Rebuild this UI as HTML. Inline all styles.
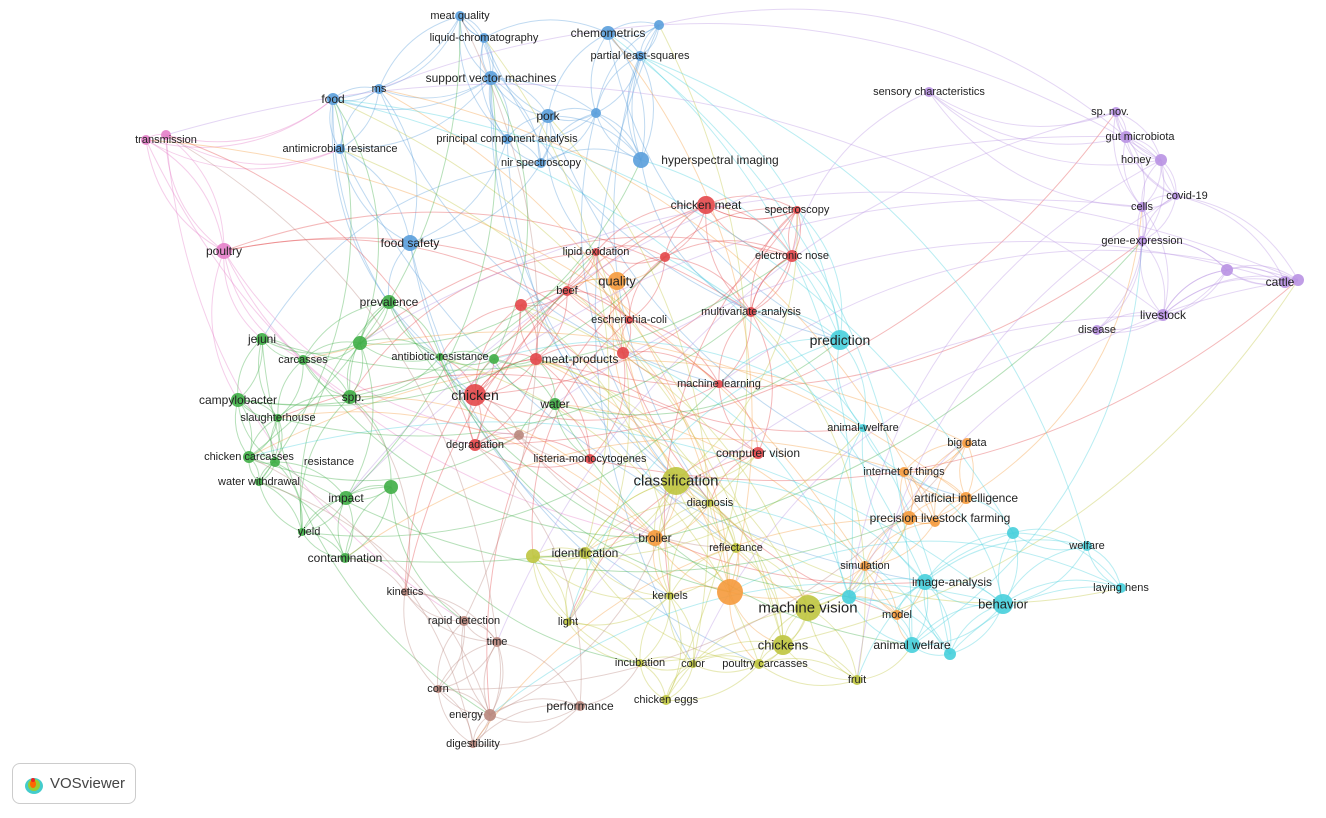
<!DOCTYPE html>
<html><head><meta charset="utf-8"><style>
html,body{margin:0;padding:0;background:#fff;}
#w{position:relative;width:1326px;height:818px;overflow:hidden;font-family:"Liberation Sans",sans-serif;}
svg{position:absolute;left:0;top:0}
.logo{position:absolute;left:12px;top:763px;width:124px;height:41px;border:1px solid #ccc;border-radius:8px;background:#fff;box-sizing:border-box;font-size:15px;color:#444;}
.logo span{position:absolute;left:37px;top:11px}
</style></head><body><div id="w">
<svg id="s" width="1326" height="818" xmlns="http://www.w3.org/2000/svg"><g id="e" fill="none"></g><g id="n"></g><g id="t" font-family="Liberation Sans, sans-serif" fill="#222" text-anchor="middle" dominant-baseline="central"></g></svg>
<div class="logo"><svg width="24" height="24" style="position:absolute;left:9px;top:8px"><ellipse cx="12" cy="14" rx="9" ry="8" fill="#4cc"/><ellipse cx="12" cy="13" rx="6" ry="6" fill="#9c3"/><ellipse cx="11" cy="12" rx="3" ry="4" fill="#f60"/><circle cx="11" cy="8" r="2" fill="#e22"/></svg><span>VOSviewer</span></div>
</div>
<script>
var C={b:"#5a9fdb",p:"#e47fc9",r:"#e3474a",o:"#f59a3c",y:"#bfc53f",c:"#47cfdc",u:"#b992e3",g:"#3fae46",w:"#b9877d"};
var N=[
["b",460,16,5,"meat quality",11],["b",484,38,5,"liquid-chromatography",11],["b",608,33,7,"chemometrics",12],["b",659,25,5,"",0],["b",640,56,5,"partial least-squares",11],
["b",491,78,7,"support vector machines",12],["b",379,89,5,"ms",11],["b",333,99,6,"food",12],["b",548,116,7,"pork",12],["b",596,113,5,"",0],
["b",507,139,5,"principal component analysis",11],["b",340,149,5,"antimicrobial resistance",11],["b",541,163,5,"nir spectroscopy",11],["b",641,160,8,"hyperspectral imaging",12,720],["b",410,243,8,"food safety",12],
["p",146,140,5,"transmission",11,166],["p",166,135,5,"",0],["p",224,251,8,"poultry",12],
["r",706,205,9,"chicken meat",12],["r",797,210,4,"spectroscopy",11],["r",792,256,6,"electronic nose",11],["r",596,252,4,"lipid oxidation",11],["r",665,257,5,"",0],["r",567,291,5,"beef",11],["r",521,305,6,"",0],["r",751,312,5,"multivariate-analysis",11],["r",629,320,4,"escherichia-coli",11],["r",536,359,6,"meat-products",12,580],["r",623,353,6,"",0],["r",719,384,4,"machine learning",11],["r",475,395,11,"chicken",14],["r",475,445,6,"degradation",11],["r",590,459,5,"listeria-monocytogenes",11],["r",758,453,6,"computer vision",12],
["o",617,281,9,"quality",13],["o",967,443,5,"big data",11],["o",904,472,5,"internet of things",11],["o",966,498,6,"artificial intelligence",12],["o",909,518,7,"precision livestock farming",12,940],["o",935,522,5,"",0],["o",655,538,8,"broiler",12],["o",730,592,13,"",0],["o",865,566,5,"simulation",11],["o",897,615,5,"model",11],
["y",676,481,14,"classification",15],["y",710,503,4,"diagnosis",11],["y",585,553,6,"identification",12],["y",533,556,7,"",0],["y",736,548,5,"reflectance",11],["y",670,596,4,"kernels",11],["y",808,608,13,"machine vision",15],["y",568,622,4,"light",11],["y",783,645,10,"chickens",13],["y",640,663,4,"incubation",11],["y",693,664,4,"color",11],["y",759,664,5,"poultry carcasses",11,765],["y",857,680,5,"fruit",11],["y",666,700,5,"chicken eggs",11],
["c",840,340,10,"prediction",14],["c",863,428,4,"animal-welfare",11],["c",925,582,8,"image-analysis",12,952],["c",1003,604,10,"behavior",13],["c",1013,533,6,"",0],["c",1087,546,5,"welfare",11],["c",1121,588,5,"laying hens",11],["c",849,597,7,"",0],["c",912,645,8,"animal welfare",12],["c",950,654,6,"",0],
["u",929,92,5,"sensory characteristics",11],["u",1116,112,5,"sp. nov.",11,1110],["u",1126,137,6,"gut microbiota",11,1140],["u",1161,160,6,"honey",11,1136],["u",1142,207,5,"cells",11],["u",1176,196,4,"covid-19",11,1187],["u",1142,241,5,"gene-expression",11],["u",1227,270,6,"",0],["u",1285,282,6,"cattle",12,1280],["u",1298,280,6,"",0],["u",1163,315,6,"livestock",12],["u",1097,330,5,"disease",11],
["g",389,302,7,"prevalence",12],["g",262,339,6,"jejuni",12],["g",360,343,7,"",0],["g",303,360,5,"carcasses",11],["g",440,357,4,"antibiotic-resistance",11],["g",494,359,5,"",0],["g",238,400,7,"campylobacter",12],["g",350,397,7,"spp.",12,353],["g",278,418,4,"slaughterhouse",11],["g",555,404,6,"water",12],["g",249,457,6,"chicken carcasses",11],["g",275,462,5,"resistance",11,329],["g",259,482,4,"water withdrawal",11],["g",346,498,7,"impact",12],["g",391,487,7,"",0],["g",302,532,4,"yield",11,309],["g",345,558,5,"contamination",12],
["w",519,435,5,"",0],["w",405,592,4,"kinetics",11],["w",464,621,5,"rapid detection",11],["w",497,642,5,"time",11],["w",438,689,4,"corn",11],["w",580,706,5,"performance",12],["w",490,715,6,"energy",11,466],["w",473,744,4,"digestibility",11]
];
var seed=11;function rnd(){seed=(seed*16807)%2147483647;return seed/2147483647;}
var e="",n="",t="";
for(var i=0;i<N.length;i++){var a=N[i];
 var d=[];for(var j=0;j<N.length;j++){if(j==i)continue;var b=N[j];var dd=Math.hypot(a[1]-b[1],a[2]-b[2]);if(b[0]!=a[0])dd*=1.8;d.push([dd,j]);}
 d.sort(function(x,y){return x[0]-y[0]});
 var k=3+Math.floor(a[3]/4);
 var pick=[];for(var q=0;q<k;q++)pick.push(d[q][1]);
 for(var q=0;q<Math.floor(a[3]/3);q++)pick.push(d[Math.floor(rnd()*d.length)][1]);
 for(var q=0;q<pick.length;q++){var b=N[pick[q]];
  var mx=(a[1]+b[1])/2,my=(a[2]+b[2])/2,dx=b[1]-a[1],dy=b[2]-a[2];
  var cx=mx-dy*0.25,cy=my+dx*0.25;
  e+='<path d="M'+a[1]+' '+a[2]+'Q'+cx.toFixed(1)+' '+cy.toFixed(1)+' '+b[1]+' '+b[2]+'" stroke="'+C[a[0]]+'" stroke-opacity="0.38" stroke-width="1"/>';}
}
for(var i=0;i<N.length;i++){var a=N[i];
 n+='<circle cx="'+a[1]+'" cy="'+a[2]+'" r="'+a[3]+'" fill="'+C[a[0]]+'" fill-opacity="0.9"/>';
 if(a[4])t+='<text x="'+(a[6]||a[1])+'" y="'+a[2]+'" font-size="'+a[5]+'">'+a[4]+'</text>';}
document.getElementById("e").innerHTML=e;document.getElementById("n").innerHTML=n;document.getElementById("t").innerHTML=t;
</script>
</body></html>
